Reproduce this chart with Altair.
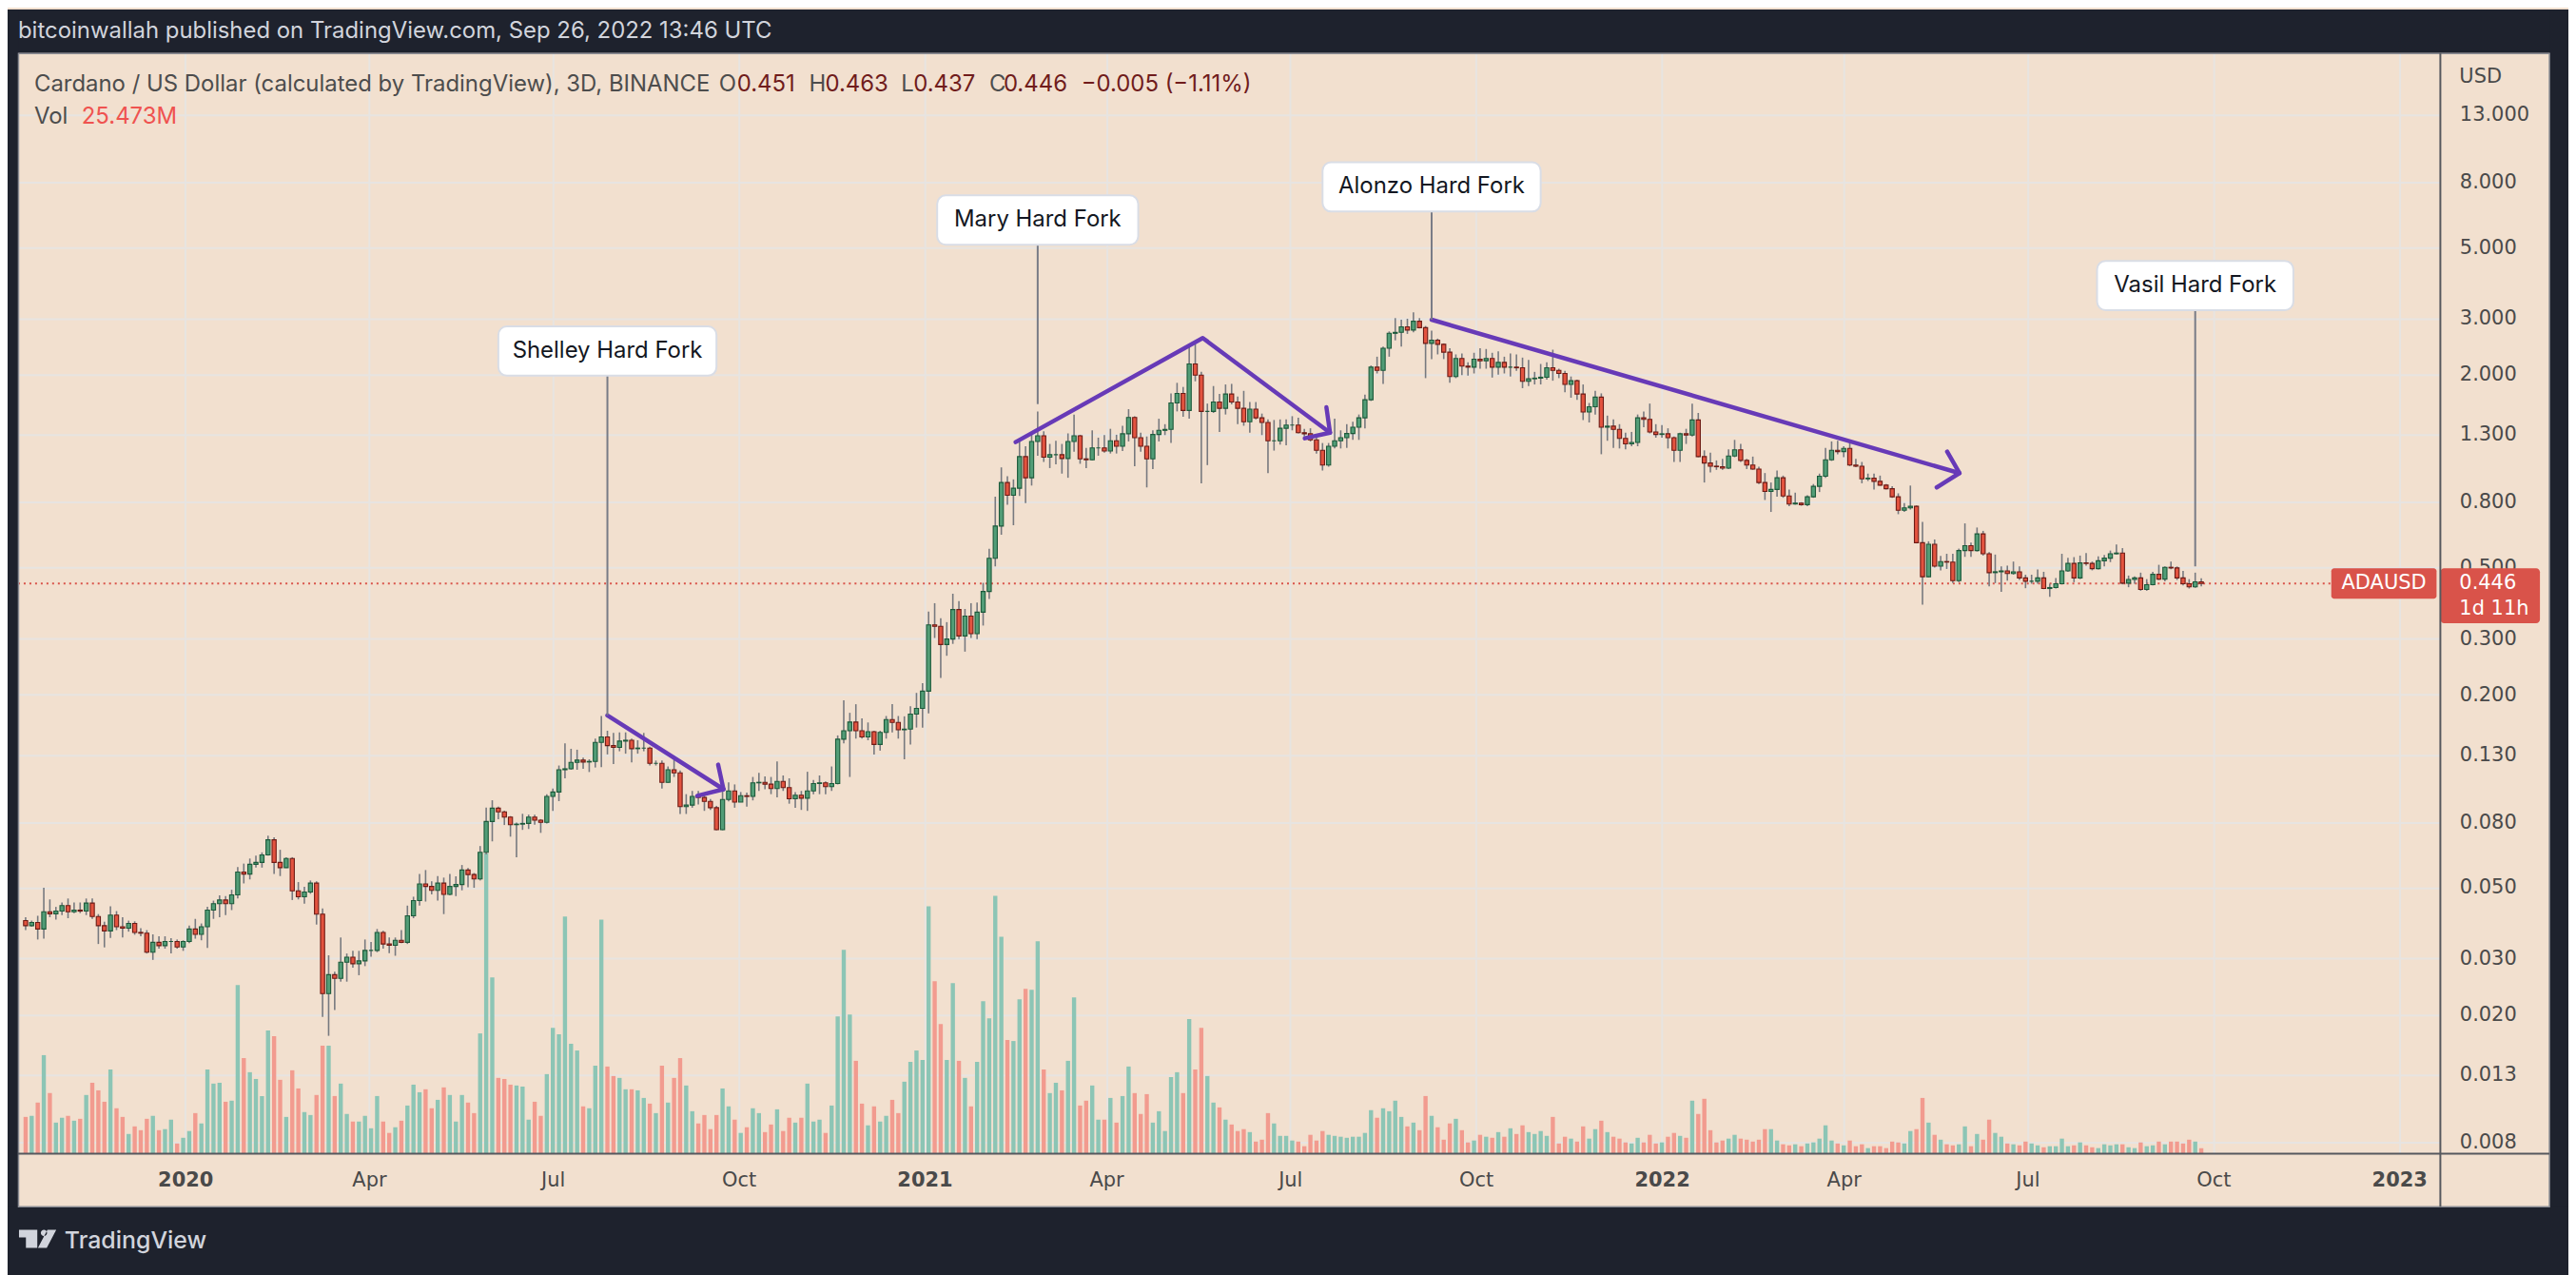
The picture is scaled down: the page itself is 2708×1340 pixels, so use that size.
import altair as alt
import pandas as pd

# ---------------- data (3-day candles, ADA/USD) ----------------
FIRST_BAR = "2019-10-14"
FIRST_OPEN = 0.0394

close = [
    0.0380, 0.0389, 0.0371, 0.0420, 0.0414, 0.0422, 0.0439, 0.0420, 0.0425, 0.0422,
    0.0447, 0.0406, 0.0380, 0.0366, 0.0410, 0.0377, 0.0373, 0.0386, 0.0362, 0.0360,
    0.0314, 0.0337, 0.0329, 0.0339, 0.0339, 0.0326, 0.0339, 0.0371, 0.0357, 0.0377,
    0.0425, 0.0445, 0.0457, 0.0445, 0.0474, 0.0559, 0.0551, 0.0591, 0.0599, 0.0632,
    0.0705, 0.0599, 0.0577, 0.0616, 0.0488, 0.0468, 0.0484, 0.0516, 0.0413, 0.0233,
    0.0267, 0.0260, 0.0292, 0.0303, 0.0289, 0.0295, 0.0318, 0.0318, 0.0362, 0.0333,
    0.0330, 0.0342, 0.0337, 0.0408, 0.0455, 0.0513, 0.0504, 0.0490, 0.0516, 0.0476,
    0.0504, 0.0511, 0.0567, 0.0549, 0.0532, 0.0644, 0.0804, 0.0885, 0.0862, 0.0830,
    0.0786, 0.0789, 0.0793, 0.0830, 0.0812, 0.0799, 0.0963, 0.0994, 0.1167, 0.1175,
    0.1231, 0.1251, 0.1234, 0.1239, 0.1421, 0.1478, 0.1388, 0.1370, 0.1434, 0.1443,
    0.1358, 0.1364, 0.1364, 0.1222, 0.1222, 0.1066, 0.1167, 0.1141, 0.0895, 0.0905,
    0.0963, 0.0956, 0.0929, 0.0888, 0.0758, 0.0942, 0.1002, 0.0925, 0.0968, 0.0963,
    0.1062, 0.1066, 0.1052, 0.1019, 0.1073, 0.1026, 0.0947, 0.0972, 0.0951, 0.1002,
    0.1057, 0.1062, 0.1033, 0.1057, 0.1454, 0.1545, 0.1645, 0.1545, 0.1478, 0.1535,
    0.1400, 0.1527, 0.1675, 0.1640, 0.1556, 0.1563, 0.1742, 0.1814, 0.2054, 0.3311,
    0.3274, 0.2873, 0.2988, 0.3695, 0.3057, 0.3527, 0.3106, 0.3627, 0.4209, 0.5346,
    0.674, 0.922, 0.841, 0.885, 1.111, 0.954, 1.239, 1.291, 1.106, 1.126,
    1.126, 1.096, 1.239, 1.291, 1.093, 1.086, 1.183, 1.183, 1.157, 1.245,
    1.197, 1.309, 1.473, 1.273, 1.197, 1.093, 1.303, 1.342, 1.351, 1.634,
    1.751, 1.549, 2.164, 1.997, 1.538, 1.538, 1.645, 1.573, 1.743, 1.645,
    1.573, 1.427, 1.563, 1.469, 1.420, 1.245, 1.245, 1.362, 1.394, 1.394,
    1.320, 1.309, 1.253, 1.162, 1.045, 1.197, 1.245, 1.273, 1.312, 1.373,
    1.469, 1.673, 2.115, 2.067, 2.424, 2.698, 2.716, 2.826, 2.761, 2.942,
    2.810, 2.509, 2.567, 2.493, 2.355, 1.977, 2.251, 2.130, 2.115, 2.240,
    2.214, 2.251, 2.115, 2.189, 2.115, 2.115, 2.105, 1.910, 1.945, 1.954,
    1.967, 2.105, 2.067, 2.021, 1.867, 1.918, 1.743, 1.531, 1.591, 1.704,
    1.373, 1.383, 1.351, 1.267, 1.217, 1.230, 1.469, 1.452, 1.327, 1.303,
    1.309, 1.273, 1.162, 1.309, 1.297, 1.446, 1.111, 1.061, 1.037, 1.033,
    1.023, 1.116, 1.167, 1.081, 1.045, 1.016, 0.922, 0.865, 0.877, 0.954,
    0.837, 0.790, 0.795, 0.786, 0.832, 0.897, 0.965, 1.086, 1.162, 1.152,
    1.178, 1.045, 1.037, 0.947, 0.951, 0.930, 0.905, 0.882, 0.832, 0.755,
    0.768, 0.777, 0.598, 0.468, 0.591, 0.505, 0.522, 0.520, 0.455, 0.565,
    0.585, 0.565, 0.637, 0.552, 0.482, 0.485, 0.488, 0.479, 0.485, 0.464,
    0.453, 0.453, 0.464, 0.430, 0.433, 0.445, 0.488, 0.515, 0.464, 0.517,
    0.515, 0.496, 0.525, 0.535, 0.552, 0.555, 0.447, 0.459, 0.464, 0.427,
    0.442, 0.476, 0.460, 0.501, 0.4985, 0.464, 0.445, 0.435, 0.451, 0.446,
]

high = [
    0.0404, 0.0394, 0.0408, 0.0499, 0.0459, 0.0435, 0.0449, 0.0462, 0.0449, 0.0449,
    0.0462, 0.0462, 0.0413, 0.0391, 0.0437, 0.0422, 0.0404, 0.0394, 0.0392, 0.0373,
    0.0368, 0.0357, 0.0352, 0.0352, 0.0347, 0.0344, 0.0342, 0.0380, 0.0399, 0.0386,
    0.0435, 0.0455, 0.0473, 0.0470, 0.0492, 0.0579, 0.0594, 0.0616, 0.0629, 0.0644,
    0.0726, 0.0718, 0.0656, 0.0622, 0.0622, 0.0520, 0.0503, 0.0526, 0.0523, 0.0430,
    0.0307, 0.0273, 0.0349, 0.0311, 0.0317, 0.0317, 0.0344, 0.0338, 0.0371, 0.0366,
    0.0349, 0.0349, 0.0368, 0.0439, 0.0468, 0.0551, 0.0567, 0.0523, 0.0543, 0.0537,
    0.0551, 0.0542, 0.0588, 0.0575, 0.0555, 0.0674, 0.0889, 0.0937, 0.0895, 0.0869,
    0.0836, 0.0798, 0.0850, 0.0845, 0.0845, 0.0818, 0.0979, 0.1019, 0.1203, 0.1411,
    0.1357, 0.1348, 0.1273, 0.1258, 0.1460, 0.1718, 0.1545, 0.1521, 0.1527, 0.1527,
    0.1460, 0.1443, 0.1521, 0.1378, 0.1247, 0.1247, 0.1195, 0.1286, 0.1161, 0.0979,
    0.1002, 0.1002, 0.0986, 0.0945, 0.0900, 0.1014, 0.1066, 0.1050, 0.0994, 0.0990,
    0.1108, 0.1141, 0.1112, 0.1108, 0.1238, 0.1120, 0.1097, 0.0994, 0.1002, 0.1150,
    0.1084, 0.1120, 0.1073, 0.1195, 0.1494, 0.1924, 0.1758, 0.1870, 0.1690, 0.1640,
    0.1545, 0.1545, 0.1718, 0.1873, 0.1718, 0.1714, 0.1843, 0.2029, 0.2175, 0.3645,
    0.3869, 0.3470, 0.3376, 0.4141, 0.3927, 0.3712, 0.3869, 0.3887, 0.4479, 0.5728,
    0.8327, 1.028, 0.965, 0.943, 1.240, 1.197, 1.327, 1.538, 1.333, 1.217,
    1.245, 1.217, 1.313, 1.504, 1.300, 1.183, 1.342, 1.273, 1.297, 1.357,
    1.300, 1.387, 1.563, 1.486, 1.320, 1.284, 1.342, 1.459, 1.403, 1.751,
    1.889, 1.834, 2.443, 2.500, 2.044, 1.627, 1.846, 1.743, 1.867, 1.875,
    1.711, 1.783, 1.645, 1.645, 1.514, 1.452, 1.446, 1.452, 1.452, 1.486,
    1.469, 1.357, 1.362, 1.303, 1.225, 1.225, 1.459, 1.342, 1.403, 1.427,
    1.504, 1.736, 2.140, 2.280, 2.451, 2.735, 3.010, 2.977, 2.996, 3.139,
    3.010, 2.844, 2.748, 2.597, 2.509, 2.424, 2.318, 2.334, 2.189, 2.345,
    2.424, 2.410, 2.345, 2.371, 2.280, 2.334, 2.318, 2.265, 2.229, 2.044,
    2.164, 2.189, 2.398, 2.091, 2.060, 1.977, 1.932, 1.867, 1.634, 1.783,
    1.751, 1.492, 1.452, 1.403, 1.320, 1.327, 1.504, 1.538, 1.627, 1.403,
    1.394, 1.362, 1.284, 1.320, 1.357, 1.627, 1.521, 1.162, 1.143, 1.081,
    1.093, 1.170, 1.253, 1.217, 1.093, 1.111, 1.033, 0.987, 0.922, 1.005,
    0.969, 0.877, 0.857, 0.800, 0.841, 0.912, 0.983, 1.183, 1.239, 1.245,
    1.197, 1.239, 1.093, 1.069, 0.983, 0.983, 0.969, 0.912, 0.897, 0.853,
    0.795, 0.902, 0.782, 0.695, 0.604, 0.612, 0.544, 0.552, 0.552, 0.573,
    0.687, 0.598, 0.667, 0.651, 0.559, 0.549, 0.504, 0.507, 0.522, 0.504,
    0.475, 0.475, 0.493, 0.485, 0.445, 0.464, 0.552, 0.536, 0.539, 0.545,
    0.555, 0.522, 0.542, 0.547, 0.565, 0.590, 0.575, 0.472, 0.469, 0.482,
    0.460, 0.485, 0.510, 0.504, 0.522, 0.504, 0.488, 0.460, 0.482, 0.463,
]

low = [
    0.0368, 0.0377, 0.0344, 0.0346, 0.0404, 0.0397, 0.0410, 0.0401, 0.0416, 0.0416,
    0.0410, 0.0399, 0.0333, 0.0325, 0.0348, 0.0368, 0.0349, 0.0364, 0.0356, 0.0352,
    0.0311, 0.0297, 0.0322, 0.0322, 0.0311, 0.0322, 0.0317, 0.0335, 0.0346, 0.0342,
    0.0324, 0.0399, 0.0404, 0.0410, 0.0425, 0.0462, 0.0515, 0.0530, 0.0577, 0.0577,
    0.0629, 0.0551, 0.0543, 0.0575, 0.0457, 0.0459, 0.0445, 0.0478, 0.0383, 0.0197,
    0.0172, 0.0207, 0.0254, 0.0254, 0.0281, 0.0266, 0.0284, 0.0304, 0.0314, 0.0322,
    0.0312, 0.0306, 0.0335, 0.0333, 0.0401, 0.0439, 0.0452, 0.0476, 0.0455, 0.0413,
    0.0473, 0.0470, 0.0490, 0.0501, 0.0499, 0.0526, 0.0634, 0.0697, 0.0817, 0.0784,
    0.0721, 0.0622, 0.0757, 0.0762, 0.0786, 0.0741, 0.0793, 0.0868, 0.0931, 0.1097,
    0.1167, 0.1167, 0.1175, 0.1148, 0.1186, 0.1189, 0.1303, 0.1216, 0.1333, 0.1310,
    0.1231, 0.1310, 0.1333, 0.1203, 0.1203, 0.1019, 0.1062, 0.1108, 0.0849, 0.0849,
    0.0888, 0.0909, 0.0868, 0.0874, 0.0755, 0.0755, 0.0929, 0.0888, 0.0925, 0.0895,
    0.0936, 0.1002, 0.1014, 0.0979, 0.0956, 0.1002, 0.0914, 0.0888, 0.0874, 0.0868,
    0.0979, 0.0979, 0.0979, 0.1002, 0.1050, 0.1411, 0.1108, 0.1460, 0.1460, 0.1443,
    0.1303, 0.1339, 0.1460, 0.1527, 0.1460, 0.1258, 0.1400, 0.1581, 0.1581, 0.1752,
    0.3012, 0.2258, 0.2650, 0.2887, 0.2988, 0.2730, 0.3012, 0.2988, 0.3294, 0.3990,
    0.5042, 0.633, 0.786, 0.678, 0.837, 0.795, 0.902, 1.118, 1.069, 1.023,
    1.051, 0.983, 0.954, 1.150, 1.055, 1.023, 1.081, 1.118, 1.143, 1.136,
    1.136, 1.157, 1.239, 1.037, 1.150, 0.890, 1.016, 1.239, 1.297, 1.225,
    1.538, 1.480, 1.460, 1.910, 0.917, 1.045, 1.521, 1.327, 1.504, 1.618,
    1.403, 1.387, 1.320, 1.452, 1.297, 0.987, 1.160, 1.211, 1.206, 1.342,
    1.313, 1.284, 1.239, 1.136, 1.005, 1.033, 1.178, 1.178, 1.183, 1.253,
    1.253, 1.362, 1.658, 2.021, 1.875, 2.280, 2.565, 2.451, 2.686, 2.716,
    2.795, 1.954, 2.241, 2.318, 2.241, 1.889, 1.954, 1.997, 1.989, 2.021,
    2.091, 2.091, 1.962, 2.004, 2.021, 1.977, 2.060, 1.818, 1.846, 1.867,
    1.867, 1.932, 1.918, 1.954, 1.765, 1.697, 1.670, 1.445, 1.420, 1.504,
    1.130, 1.245, 1.183, 1.178, 1.170, 1.197, 1.197, 1.373, 1.313, 1.273,
    1.273, 1.178, 1.069, 1.069, 1.217, 1.284, 1.106, 0.922, 0.992, 1.010,
    1.010, 1.016, 1.106, 1.069, 1.016, 1.010, 0.912, 0.813, 0.746, 0.832,
    0.826, 0.777, 0.786, 0.780, 0.777, 0.826, 0.861, 0.954, 1.077, 1.130,
    1.106, 1.037, 1.030, 0.917, 0.932, 0.877, 0.900, 0.877, 0.826, 0.734,
    0.746, 0.759, 0.595, 0.383, 0.466, 0.500, 0.490, 0.495, 0.447, 0.450,
    0.540, 0.540, 0.561, 0.545, 0.437, 0.447, 0.420, 0.455, 0.475, 0.457,
    0.431, 0.445, 0.445, 0.428, 0.405, 0.430, 0.443, 0.485, 0.450, 0.460,
    0.507, 0.490, 0.493, 0.504, 0.520, 0.549, 0.443, 0.434, 0.445, 0.423,
    0.423, 0.440, 0.457, 0.453, 0.494, 0.457, 0.440, 0.430, 0.432, 0.437,
]

volume_m = [
    174, 179, 242, 467, 287, 147, 170, 179, 156, 165,
    278, 336, 300, 246, 399, 215, 174, 93, 129, 111,
    165, 179, 111, 116, 161, 48, 75, 107, 192, 143,
    399, 332, 336, 246, 251, 800, 453, 386, 354, 273,
    584, 557, 350, 174, 395, 309, 197, 183, 278, 512,
    512, 273, 332, 188, 152, 152, 179, 120, 273, 152,
    98, 125, 156, 228, 327, 291, 305, 215, 255, 314,
    278, 152, 278, 242, 192, 570, 1425, 836, 359, 354,
    327, 323, 318, 161, 246, 179, 377, 597, 566, 1124,
    521, 489, 224, 215, 417, 1110, 413, 368, 359, 305,
    305, 300, 264, 237, 192, 417, 242, 359, 453, 323,
    201, 143, 183, 116, 183, 309, 224, 161, 98, 125,
    215, 192, 102, 138, 210, 107, 170, 147, 170, 332,
    152, 161, 98, 228, 651, 966, 660, 440, 237, 134,
    224, 152, 179, 255, 192, 341, 435, 489, 444, 1173,
    818, 615, 444, 809, 440, 359, 224, 435, 723, 642,
    1223, 1029, 539, 534, 732, 782, 777, 1007, 399, 287,
    336, 300, 440, 741, 228, 251, 323, 161, 161, 264,
    147, 273, 413, 287, 188, 282, 147, 201, 107, 363,
    386, 287, 638, 399, 597, 368, 242, 219, 161, 138,
    107, 116, 102, 57, 66, 192, 143, 84, 84, 62,
    57, 35, 89, 62, 107, 89, 84, 80, 75, 80,
    80, 98, 206, 170, 215, 201, 251, 174, 129, 147,
    111, 273, 179, 125, 66, 143, 165, 111, 53, 62,
    89, 80, 75, 102, 80, 120, 93, 134, 102, 93,
    107, 84, 174, 48, 80, 71, 57, 129, 71, 116,
    156, 102, 80, 71, 53, 48, 75, 53, 89, 48,
    53, 80, 98, 84, 75, 251, 188, 260, 111, 53,
    62, 71, 89, 71, 66, 57, 66, 116, 116, 62,
    44, 39, 44, 35, 48, 53, 71, 134, 62, 48,
    39, 62, 35, 44, 26, 35, 35, 26, 57, 53,
    48, 107, 116, 264, 147, 89, 66, 44, 39, 44,
    129, 35, 93, 66, 161, 98, 80, 48, 44, 39,
    57, 48, 39, 30, 35, 35, 71, 35, 39, 53,
    39, 30, 26, 44, 39, 44, 44, 30, 26, 53,
    35, 39, 57, 44, 57, 57, 48, 66, 57, 25.473,
]

price_ticks = [13, 8, 5, 3, 2, 1.3, 0.8, 0.5, 0.3, 0.2, 0.13, 0.08, 0.05, 0.03, 0.02, 0.013, 0.008]
time_ticks = [(2020, 1), (2020, 4), (2020, 7), (2020, 10), (2021, 1), (2021, 4), (2021, 7),
              (2021, 10), (2022, 1), (2022, 4), (2022, 7), (2022, 10), (2023, 1)]

last_price = 0.446

ann_labels = ["Shelley Hard Fork", "Mary Hard Fork", "Alonzo Hard Fork", "Vasil Hard Fork"]
ann_dates = ["2020-07-28T00:00:00Z", "2021-02-26T00:00:00Z", "2021-09-09T00:00:00Z", "2022-09-22T00:00:00Z"]
ann_point = [0.1726, 1.621, 2.975, 0.504]
ann_box = [2.375, 6.094, 7.739, 3.804]
ann_box_w = [230, 212, 230, 207]

arrow_seg = ["s", "s", "sh", "sh", "sh",
             "m", "m", "m", "mh", "mh", "mh",
             "a", "a", "ah", "ah", "ah"]
arrow_date = ["2020-07-28T00:00:00Z", "2020-09-23T11:00:00Z",
              "2020-09-20T19:00:00Z", "2020-09-23T11:00:00Z", "2020-09-10T12:00:00Z",
              "2021-02-15T02:00:00Z", "2021-05-18T17:00:00Z", "2021-07-20T17:00:00Z",
              "2021-07-18T22:00:00Z", "2021-07-20T17:00:00Z", "2021-07-08T05:00:00Z",
              "2021-09-09T00:00:00Z", "2022-05-28T07:00:00Z",
              "2022-05-22T05:00:00Z", "2022-05-28T07:00:00Z", "2022-05-17T01:00:00Z"]
arrow_price = [0.1726, 0.1014, 0.1211, 0.1014, 0.0967,
               1.233, 2.608, 1.320, 1.585, 1.320, 1.267,
               2.975, 0.9865, 1.152, 0.9865, 0.890]

# ---------------- styles ----------------
PEACH = "#f2e0cf"
DARK = "#1e222d"
GRID = "#e7e4e1"
AXIS_TXT = "#4a4a4a"
UP_FILL, UP_LINE = "#529d77", "#1c5a3a"
DN_FILL, DN_LINE = "#e3533f", "#6e1b15"
VOL_UP, VOL_DN = "#8cc5b5", "#f29b8f"
RED = "#d9534a"
PURPLE = "#673ab7"
W, H = 2554, 1160

# ---------------- frames ----------------
n = len(close)
dates = pd.date_range(FIRST_BAR, periods=n, freq="3D")
opens = [FIRST_OPEN] + close[:-1]
df = pd.DataFrame({
    "date": dates.strftime("%Y-%m-%dT%H:%M:%SZ"),
    "open": opens, "close": close, "high": high, "low": low, "volume": volume_m,
})
df["high"] = df[["high", "open", "close"]].max(axis=1)
df["low"] = df[["low", "open", "close"]].min(axis=1)
df["dir"] = ["up" if c >= o else "down" for o, c in zip(df["open"], df["close"])]

ann = pd.DataFrame({"label": ann_labels, "date": ann_dates, "point": ann_point, "box": ann_box})
arrows = pd.DataFrame({"seg": arrow_seg, "date": arrow_date, "price": arrow_price,
                       "ord": list(range(len(arrow_seg)))})
lastdf = pd.DataFrame({"price": [last_price], "name": ["ADAUSD"], "val": ["0.446"], "cd": ["1d 11h"]})
ONE = pd.DataFrame({"k": [0]})

# ---------------- scales / axes ----------------
xscale = alt.Scale(type="utc", domain=[
    alt.DateTime(year=2019, month=10, date=12, hours=14, minutes=20, utc=True),
    alt.DateTime(year=2023, month=1, date=19, utc=True)])
xaxis = alt.Axis(
    values=[alt.DateTime(year=y, month=m, date=1, utc=True) for y, m in time_ticks],
    labelExpr="utcmonth(datum.value) == 0 ? utcFormat(datum.value, '%Y') : utcFormat(datum.value, '%b')",
    labelFontWeight={"condition": {"test": "utcmonth(datum.value) == 0", "value": "bold"}, "value": "normal"},
    grid=True, gridColor=GRID, gridWidth=2, ticks=False, tickSize=0, domain=False,
    labelPadding=28, labelBaseline="middle", labelFont="DejaVu Sans", labelFontSize=21,
    labelColor=AXIS_TXT, labelOverlap=False, labelFlush=False, title=None)
yscale = alt.Scale(type="log", domain=[0.00737, 20.26], nice=False)
yaxis = alt.Axis(
    orient="right", values=price_ticks, format=".3f",
    grid=True, gridColor=GRID, gridWidth=2, ticks=False, tickSize=0, domain=False,
    labelPadding=20, labelAlign="left", labelBaseline="middle", labelFont="DejaVu Sans",
    labelFontSize=21, labelColor=AXIS_TXT, labelOverlap=False, labelFlush=False, title=None)


def X(f):
    return alt.X(f"{f}:T", scale=xscale, axis=xaxis)


def Y(f):
    return alt.Y(f"{f}:Q", scale=yscale, axis=yaxis)


def txt(s, x, y, color, size, font="Inter", weight="normal", align="left"):
    return alt.Chart(ONE).mark_text(text=s, color=color, fontSize=size, font=font,
                                    fontWeight=weight, align=align, baseline="middle").encode(
        x=alt.value(x), y=alt.value(y))


def band(x1, x2, y1, y2, color):
    return alt.Chart(ONE).mark_rect(color=color).encode(
        x=alt.value(x1), x2=alt.value(x2), y=alt.value(y1), y2=alt.value(y2))


# ---------------- layers ----------------
vol = alt.Chart(df).mark_bar(size=4.4).encode(
    x=X("date"),
    y=alt.Y("volume:Q", scale=alt.Scale(domain=[0, 5220], nice=False, zero=True), axis=None),
    color=alt.Color("dir:N", scale=alt.Scale(domain=["up", "down"], range=[VOL_UP, VOL_DN]), legend=None),
)

last_line = alt.Chart(lastdf).mark_rule(color=RED, strokeWidth=2, strokeDash=[2, 4]).encode(
    y=Y("price"), x=alt.value(0), x2=alt.value(2439))

wicks = alt.Chart(df).mark_rule(color="#77797f", strokeWidth=1.6).encode(
    x=X("date"), y=Y("low"), y2=alt.Y2("high"))

bodies = alt.Chart(df).mark_bar(size=4.3, strokeWidth=1.1).encode(
    x=X("date"), y=Y("open"), y2=alt.Y2("close"),
    fill=alt.Fill("dir:N", scale=alt.Scale(domain=["up", "down"], range=[UP_FILL, DN_FILL]), legend=None),
    stroke=alt.Stroke("dir:N", scale=alt.Scale(domain=["up", "down"], range=[UP_LINE, DN_LINE]), legend=None),
)

arrow_lines = alt.Chart(arrows).mark_line(color=PURPLE, strokeWidth=4.5, strokeCap="round",
                                          strokeJoin="round").encode(
    x=X("date"), y=Y("price"), detail="seg:N", order="ord:Q")

ann_rules = alt.Chart(ann).mark_rule(color="#787b86", strokeWidth=2).encode(
    x=X("date"), y=Y("point"), y2=alt.Y2("box"))

boxes = []
for i in range(len(ann)):
    w = ann_box_w[i]
    boxes.append(alt.Chart(ann.iloc[[i]]).mark_rect(
        fill="#ffffff", stroke="#d9dde6", strokeWidth=2, cornerRadius=9,
        xOffset=-w / 2, x2Offset=w / 2, yOffset=-26, y2Offset=26).encode(
        x=X("date"), x2=alt.X2("date"), y=Y("box"), y2=alt.Y2("box")))

ann_text = alt.Chart(ann).mark_text(font="Inter", fontSize=24, color="#131722",
                                    align="center", baseline="middle").encode(
    x=X("date"), y=Y("box"), text="label:N")

# last price tags
tag_name_box = alt.Chart(lastdf).mark_rect(fill=RED, cornerRadius=3, yOffset=-16, y2Offset=16).encode(
    x=alt.value(2439), x2=alt.value(2550), y=Y("price"), y2=alt.Y2("price"))
tag_name = alt.Chart(lastdf).mark_text(color="white", font="DejaVu Sans", fontSize=21,
                                       align="center", baseline="middle").encode(
    x=alt.value(2494.5), y=Y("price"), text="name:N")
tag_val_box = alt.Chart(lastdf).mark_rect(fill=RED, cornerRadius=4, yOffset=-16, y2Offset=42).encode(
    x=alt.value(2554), x2=alt.value(2659), y=Y("price"), y2=alt.Y2("price"))
tag_val = alt.Chart(lastdf).mark_text(color="white", font="DejaVu Sans", fontSize=21,
                                      align="left", baseline="middle").encode(
    x=alt.value(2574), y=Y("price"), text="val:N")
tag_cd = alt.Chart(lastdf).mark_text(color="white", font="DejaVu Sans", fontSize=21, dy=27,
                                     align="left", baseline="middle").encode(
    x=alt.value(2574), y=Y("price"), text="cd:N")

# frame: dark surround, separators, border
frame = [
    band(-11, 2700, -46, 0, DARK),
    band(-11, 0.5, -46, 1300, DARK),
    band(2669, 2700, -46, 1300, DARK),
    band(-11, 2700, 1216, 1300, DARK),
    alt.Chart(ONE).mark_rect(fillOpacity=0, stroke="#8a8c94", strokeWidth=1.5).encode(
        x=alt.value(0.5), x2=alt.value(2669), y=alt.value(0.5), y2=alt.value(1216)),
    alt.Chart(ONE).mark_rule(color="#56585e", strokeWidth=2).encode(
        x=alt.value(W), y=alt.value(0), y2=alt.value(1216)),
    alt.Chart(ONE).mark_rule(color="#56585e", strokeWidth=2).encode(
        x=alt.value(0), x2=alt.value(2669), y=alt.value(H)),
]

LOGO = ("M-1,-0.483 L-0.018,-0.483 L-0.018,0.483 L-0.628,0.483 L-0.628,-0.076 L-1,-0.076 Z "
        "M0.17,-0.31 A0.168,0.168 0 1 0 0.506,-0.31 A0.168,0.168 0 1 0 0.17,-0.31 Z "
        "M0.527,-0.483 L1,-0.483 L0.491,0.483 L0.018,0.483 Z")
logo = alt.Chart(ONE).mark_point(shape=LOGO, size=1544, filled=True, fill="#d1d4dc",
                                 strokeWidth=0, opacity=1).encode(x=alt.value(20.65), y=alt.value(1249.8))

LEG = "#4d4d4d"
VAL = "#701c1c"
FS = 24
texts = [
    txt("bitcoinwallah published on TradingView.com, Sep 26, 2022 13:46 UTC", 0, -23, "#d1d4dc", FS),
    txt("Cardano / US Dollar (calculated by TradingView), 3D, BINANCE", 17, 33, LEG, FS),
    txt("O", 739, 33, LEG, FS), txt("0.451", 758, 33, VAL, FS),
    txt("H", 834, 33, LEG, FS), txt("0.463", 851, 33, VAL, FS),
    txt("L", 931, 33, LEG, FS), txt("0.437", 944, 33, VAL, FS),
    txt("C", 1024, 33, LEG, FS), txt("0.446", 1039, 33, VAL, FS),
    txt("\u22120.005 (\u22121.11%)", 1121, 33, VAL, FS),
    txt("Vol", 17, 67, LEG, FS),
    txt("25.473M", 67, 67, "#ef5350", FS),
    txt("USD", 2574, 25, AXIS_TXT, 21, font="DejaVu Sans"),
    txt("TradingView", 49, 1252, "#d1d4dc", 25, weight=500),
]

price_group = alt.layer(
    last_line, wicks, bodies, arrow_lines, ann_rules, *boxes, ann_text,
    tag_name_box, tag_name, tag_val_box, tag_val, tag_cd,
    *frame, logo, *texts,
)

chart = alt.layer(vol, price_group).resolve_scale(y="independent").properties(
    width=W, height=H,
    autosize=alt.AutoSizeParams(type="none"),
    padding={"left": 11, "top": 46, "right": 135, "bottom": 126},
).configure(background=PEACH).configure_view(strokeWidth=0)

chart.save("out.html", embed_options={"renderer": "svg", "actions": False})
